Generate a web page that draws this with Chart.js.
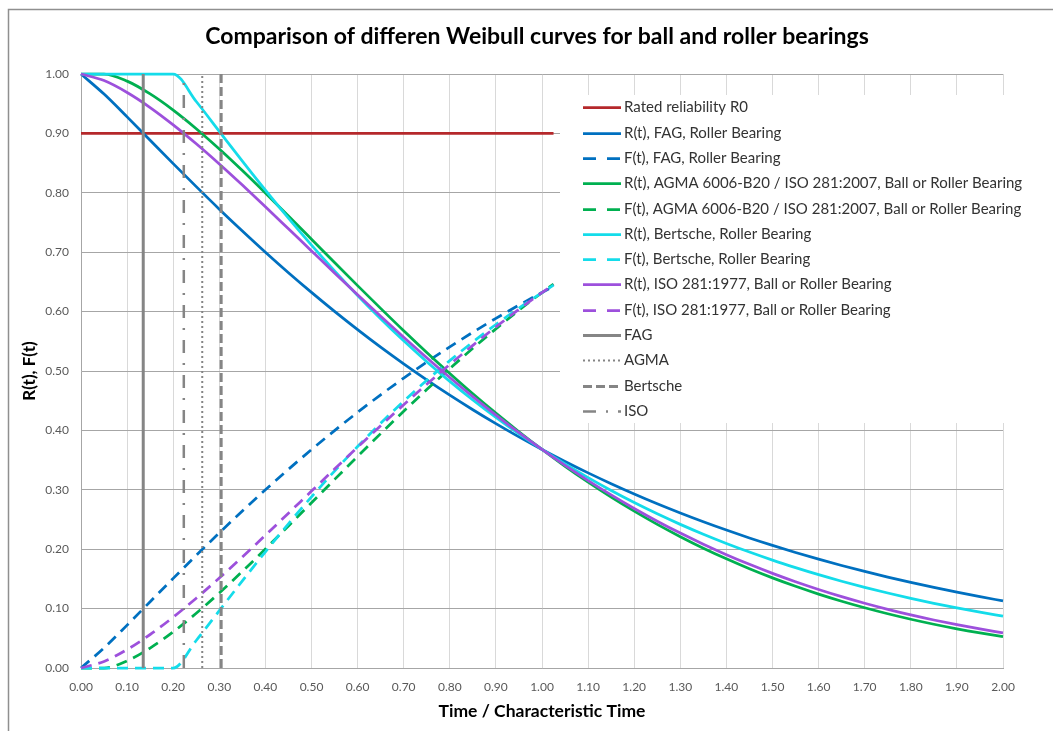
<!DOCTYPE html>
<html>
<head>
<meta charset="utf-8">
<title>Weibull curves</title>
<script src="https://cdn.jsdelivr.net/npm/chart.js@4"></script>
<style>
  html, body { margin: 0; padding: 0; background: #fff; }
  canvas { display: block; }
</style>
</head>
<body>
<canvas id="weibullChart" width="1053" height="731"></canvas>
<script>
// Weibull reliability curves

const TITLE = "Comparison of differen Weibull curves for ball and roller bearings"

// time / characteristic time, for the R(t) curves
const tR = [0, 0.05, 0.1, 0.15, 0.2, 0.25, 0.3, 0.35, 0.4, 0.45, 0.5, 0.55, 0.6, 0.65, 0.7, 0.75, 0.8, 0.85, 0.9, 0.95,
  1.0, 1.05, 1.1, 1.15, 1.2, 1.25, 1.3, 1.35, 1.4, 1.45, 1.5, 1.55, 1.6, 1.65, 1.7, 1.75, 1.8, 1.85, 1.9, 1.95, 2.0]

const rFag = [1, 0.9662, 0.9278, 0.8884, 0.8491, 0.8104, 0.7725, 0.7357, 0.7000, 0.6655, 0.6323, 0.6003, 0.5696, 0.5401, 0.5120, 0.4850, 0.4593, 0.4348, 0.4114, 0.3891,
  0.3679, 0.3477, 0.3285, 0.3103, 0.2930, 0.2765, 0.2610, 0.2462, 0.2322, 0.2189, 0.2064, 0.1945, 0.1833, 0.1726, 0.1626, 0.1531, 0.1441, 0.1356, 0.1276, 0.1201, 0.1129]
const rAgma = [1, 1, 0.9880, 0.9664, 0.9392, 0.9079, 0.8737, 0.8374, 0.7996, 0.7609, 0.7218, 0.6826, 0.6437, 0.6054, 0.5678, 0.5313, 0.4959, 0.4617, 0.4290, 0.3977,
  0.3679, 0.3396, 0.3129, 0.2877, 0.2640, 0.2418, 0.2211, 0.2017, 0.1838, 0.1671, 0.1517, 0.1375, 0.1244, 0.1124, 0.1014, 0.0913, 0.0821, 0.0737, 0.0660, 0.0591, 0.0528]
const rBertsche = [1, 1, 1, 1, 1, 0.9537, 0.9035, 0.8533, 0.8044, 0.7572, 0.7118, 0.6685, 0.6272, 0.5880, 0.5508, 0.5157, 0.4825, 0.4512, 0.4217, 0.3940,
  0.3679, 0.3434, 0.3204, 0.2988, 0.2785, 0.2596, 0.2418, 0.2252, 0.2097, 0.1952, 0.1816, 0.1690, 0.1571, 0.1461, 0.1358, 0.1262, 0.1172, 0.1089, 0.1011, 0.0939, 0.0872]
const rIso = [1, 0.9889, 0.9689, 0.9436, 0.9144, 0.8825, 0.8485, 0.8130, 0.7765, 0.7394, 0.7022, 0.6651, 0.6283, 0.5921, 0.5568, 0.5223, 0.4890, 0.4568, 0.4258, 0.3962,
  0.3679, 0.3410, 0.3155, 0.2914, 0.2686, 0.2472, 0.2271, 0.2084, 0.1908, 0.1745, 0.1593, 0.1452, 0.1322, 0.1201, 0.1090, 0.0988, 0.0894, 0.0808, 0.0729, 0.0657, 0.0591]

// the F(t) curves and the rated reliability line stop just past 1.0
const tF = [0, 0.05, 0.1, 0.15, 0.2, 0.25, 0.3, 0.35, 0.4, 0.45, 0.5, 0.55, 0.6, 0.65, 0.7, 0.75, 0.8, 0.85, 0.9, 0.95, 1.0, 1.025]

const fFag = [0, 0.0338, 0.0722, 0.1116, 0.1509, 0.1896, 0.2275, 0.2643, 0.3000, 0.3345, 0.3677, 0.3997, 0.4304, 0.4599, 0.4880, 0.5150, 0.5407, 0.5652, 0.5886, 0.6109, 0.6321, 0.6423]
const fAgma = [0, 0, 0.0120, 0.0336, 0.0608, 0.0921, 0.1263, 0.1626, 0.2004, 0.2391, 0.2782, 0.3174, 0.3563, 0.3946, 0.4322, 0.4687, 0.5041, 0.5383, 0.5710, 0.6023, 0.6321, 0.6464]
const fBertsche = [0, 0, 0, 0, 0, 0.0463, 0.0965, 0.1467, 0.1956, 0.2428, 0.2882, 0.3315, 0.3728, 0.4120, 0.4492, 0.4843, 0.5175, 0.5488, 0.5783, 0.6060, 0.6321, 0.6446]
const fIso = [0, 0.0111, 0.0311, 0.0564, 0.0856, 0.1175, 0.1515, 0.1870, 0.2235, 0.2606, 0.2978, 0.3349, 0.3717, 0.4079, 0.4432, 0.4777, 0.5110, 0.5432, 0.5742, 0.6038, 0.6321, 0.6457]

const r0T = [0, 1.025]
const r0Val = [0.9, 0.9]

// vertical markers where each R(t) reaches R0
const markerNames = ["FAG", "AGMA", "Bertsche", "ISO"]
const markerT = [0.135, 0.263, 0.304, 0.223]

const xy = (xs, ys) => xs.map((x, i) => ({ x: x, y: ys[i] }))
const vline = (t) => [{ x: t, y: 0 }, { x: t, y: 1 }]

const RED = "#b5282b"
const BLUE = "#0070c0"
const GREEN = "#00b050"
const CYAN = "#14dcea"
const PURPLE = "#9d50dc"
const GRAY = "#858585"
const DASH = [11, 7]

function curve(label, data, color, dash) {
  return {
    label: label,
    data: data,
    borderColor: color,
    backgroundColor: color,
    borderWidth: 2.75,
    borderDash: dash || [],
    legendDash: dash ? [13, 11] : [],
    cubicInterpolationMode: "monotone",
    pointRadius: 0,
    fill: false,
    clip: false,
  }
}

function marker(label, t, dash, width) {
  return {
    label: label,
    data: vline(t),
    borderColor: GRAY,
    backgroundColor: GRAY,
    borderWidth: width,
    borderDash: dash,
    legendDash: dash,
    pointRadius: 0,
    fill: false,
    clip: false,
  }
}

const datasets = [
  curve("Rated reliability R0", xy(r0T, r0Val), RED),
  curve("R(t), FAG, Roller Bearing", xy(tR, rFag), BLUE),
  curve("F(t), FAG, Roller Bearing", xy(tF, fFag), BLUE, DASH),
  curve("R(t), AGMA 6006-B20 / ISO 281:2007, Ball or Roller Bearing", xy(tR, rAgma), GREEN),
  curve("F(t), AGMA 6006-B20 / ISO 281:2007, Ball or Roller Bearing", xy(tF, fAgma), GREEN, DASH),
  curve("R(t), Bertsche, Roller Bearing", xy(tR, rBertsche), CYAN),
  curve("F(t), Bertsche, Roller Bearing", xy(tF, fBertsche), CYAN, DASH),
  curve("R(t), ISO 281:1977, Ball or Roller Bearing", xy(tR, rIso), PURPLE),
  curve("F(t), ISO 281:1977, Ball or Roller Bearing", xy(tF, fIso), PURPLE, DASH),
  marker(markerNames[0], markerT[0], [], 3),
  marker(markerNames[1], markerT[1], [2, 3], 2),
  marker(markerNames[2], markerT[2], [9, 4], 3),
  marker(markerNames[3], markerT[3], [13, 10, 2, 10], 2.5),
]
// later series on top, like the spreadsheet
datasets.forEach((d, i) => { d.order = -i })

// title, outer frame and the boxed legend
const decor = {
  id: "decor",
  beforeDraw(chart) {
    const ctx = chart.ctx
    ctx.save()
    ctx.fillStyle = "#fff"
    ctx.fillRect(0, 0, chart.width, chart.height)
    ctx.strokeStyle = "#8f8f8f"
    ctx.lineWidth = 1.5
    ctx.beginPath()
    ctx.moveTo(8.5, chart.height + 2)
    ctx.lineTo(8.5, 9.5)
    ctx.lineTo(chart.width + 2, 9.5)
    ctx.stroke()
    ctx.fillStyle = "#000"
    ctx.font = "bold 23px Lato"
    ctx.textAlign = "center"
    ctx.textBaseline = "middle"
    ctx.fillText(TITLE, 537, 37)
    ctx.restore()
  },
  afterDraw(chart) {
    const ctx = chart.ctx
    ctx.save()
    ctx.fillStyle = "#fff"
    ctx.fillRect(560, 95, 480, 328)
    ctx.font = "15px Lato"
    ctx.textAlign = "left"
    ctx.textBaseline = "middle"
    chart.data.datasets.forEach((d, i) => {
      const y = Math.round(107.3 + i * 25.3) + 0.5
      ctx.strokeStyle = d.borderColor
      ctx.lineWidth = d.borderWidth
      ctx.setLineDash(d.legendDash)
      ctx.beginPath()
      ctx.moveTo(583, y)
      ctx.lineTo(621, y)
      ctx.stroke()
      ctx.setLineDash([])
      ctx.fillStyle = "#333"
      ctx.fillText(d.label, 624, y)
    })
    ctx.restore()
  },
}

Chart.defaults.font.family = "Lato"

const ctx = document.getElementById("weibullChart")
new Chart(ctx, {
  type: "line",
  data: { datasets: datasets },
  plugins: [decor],
  options: {
    responsive: false,
    animation: false,
    devicePixelRatio: 1,
    layout: { padding: { top: 74, left: 10, right: 50, bottom: 5 } },
    plugins: {
      legend: { display: false },
      title: { display: false },
      tooltip: { enabled: false },
    },
    scales: {
      x: {
        type: "linear",
        min: 0,
        max: 2,
        ticks: {
          stepSize: 0.1,
          autoSkip: false,
          maxRotation: 0,
          padding: 12,
          color: "#595959",
          font: { size: 12 },
          callback: (v) => v.toFixed(2),
        },
        grid: { color: "#d9d9d9", drawTicks: false },
        border: { color: "#a6a6a6" },
        title: {
          display: true,
          text: "Time / Characteristic Time",
          color: "#000",
          font: { size: 17.5, weight: "bold" },
          padding: { top: 0, bottom: 4 },
        },
        afterFit: (s) => { s.height = 58 },
      },
      y: {
        min: 0,
        max: 1,
        ticks: {
          stepSize: 0.1,
          padding: 12,
          color: "#595959",
          font: { size: 12 },
          callback: (v) => v.toFixed(2),
        },
        grid: { color: "#a6a6a6", drawTicks: false },
        border: { color: "#a6a6a6" },
        title: {
          display: true,
          text: "R(t), F(t)",
          color: "#000",
          font: { size: 17, weight: "bold" },
          padding: { top: 9, bottom: 0 },
        },
        afterFit: (s) => { s.width = 71 },
      },
    },
  },
})
</script>
</body>
</html>
